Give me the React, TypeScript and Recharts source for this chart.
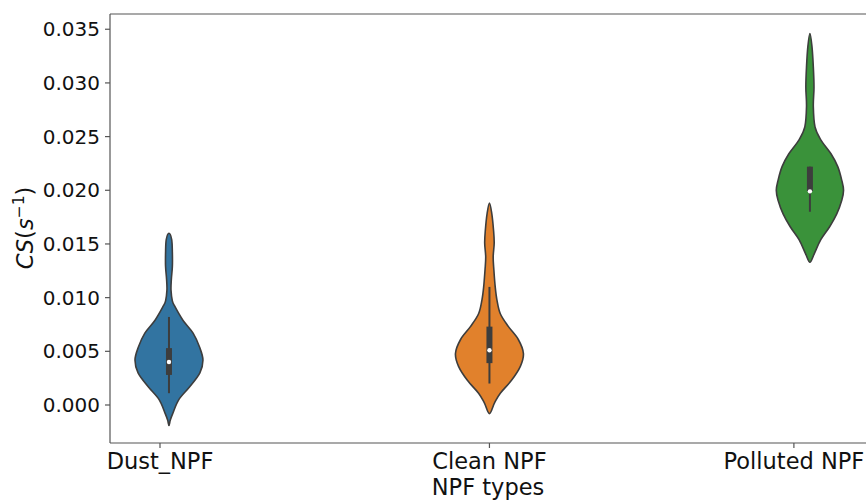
import { ScatterChart, Scatter, XAxis, YAxis, ReferenceLine } from "recharts";

// categories and where their tick labels sit on the x scale
const CATEGORIES = ["Dust_NPF", "Clean NPF", "Polluted NPF"];
const TICK_X = [-0.028, 1, 1.95];
const Y_TICKS = [0, 0.005, 0.01, 0.015, 0.02, 0.025, 0.03, 0.035];

// violin outlines: CS value and relative density (1 = widest)
const DUST_Y = [0.016, 0.0154, 0.0142, 0.0129, 0.0117, 0.0107, 0.0097, 0.0092, 0.0079, 0.0067, 0.0054, 0.0042, 0.003, 0.0017, 0.0005, -0.0008, -0.0014, -0.0019];
const DUST_DENSITY = [0, 0.08, 0.1, 0.1, 0.07, 0.06, 0.1, 0.17, 0.41, 0.71, 0.9, 1.0, 0.91, 0.61, 0.29, 0.11, 0.04, 0];

const CLEAN_Y = [0.0188, 0.0178, 0.0163, 0.0151, 0.0138, 0.0126, 0.011, 0.0098, 0.0085, 0.0073, 0.0061, 0.0048, 0.0036, 0.0023, 0.0011, 0.0002, -0.0008];
const CLEAN_DENSITY = [0, 0.07, 0.12, 0.14, 0.11, 0.13, 0.17, 0.22, 0.32, 0.56, 0.85, 1.0, 0.91, 0.65, 0.32, 0.15, 0];

const POLLUTED_Y = [0.0346, 0.0334, 0.0315, 0.0296, 0.0278, 0.0259, 0.0247, 0.0234, 0.0222, 0.0209, 0.02, 0.0191, 0.0178, 0.0166, 0.0154, 0.0141, 0.0133];
const POLLUTED_DENSITY = [0, 0.06, 0.1, 0.12, 0.1, 0.15, 0.32, 0.62, 0.82, 0.94, 0.99, 0.94, 0.79, 0.58, 0.32, 0.13, 0];

// inner box stats per category
const WHISKER_LO = [0.0011, 0.002, 0.018];
const WHISKER_HI = [0.0082, 0.011, 0.0222];
const Q1 = [0.0028, 0.0039, 0.0199];
const Q3 = [0.0053, 0.0073, 0.0222];
const MEDIAN = [0.004, 0.0051, 0.0199];

const COLORS = ["#3274a1", "#e1812c", "#3a923a"];
const EDGE = "#3d3d3d";
const SPINE = "#555";
const FONT = "DejaVu Sans";

const X_DOMAIN: [number, number] = [-0.184, 2.175];
const Y_DOMAIN: [number, number] = [-0.00354, 0.03642];
const HALF_WIDTH = 0.106;

type Pt = { x: number; y: number };

function violinPoints(center: number, ys: number[], dens: number[]) {
  const right = ys.map((y, i) => ({ x: center + dens[i] * HALF_WIDTH, y }));
  const left = ys
    .map((y, i) => ({ x: center - dens[i] * HALF_WIDTH, y }))
    .slice(1, -1)
    .reverse();
  return [...right, ...left];
}

// closed catmull-rom through the pixel points
function smoothClosed(pts: Pt[]) {
  const n = pts.length;
  let d = `M${pts[0].x},${pts[0].y}`;
  for (let i = 0; i < n; i++) {
    const p0 = pts[(i - 1 + n) % n];
    const p1 = pts[i];
    const p2 = pts[(i + 1) % n];
    const p3 = pts[(i + 2) % n];
    const c1x = p1.x + (p2.x - p0.x) / 6;
    const c1y = p1.y + (p2.y - p0.y) / 6;
    const c2x = p2.x - (p3.x - p1.x) / 6;
    const c2y = p2.y - (p3.y - p1.y) / 6;
    d += ` C${c1x},${c1y} ${c2x},${c2y} ${p2.x},${p2.y}`;
  }
  return d + " Z";
}

const violinLine = (fill: string) => (props: any) =>
  <path d={smoothClosed(props.points)} fill={fill} stroke={EDGE} strokeWidth={1.6} />;

const noShape = () => <g />;

const medianDot = (props: any) => <circle cx={props.cx} cy={props.cy} r={2.2} fill="#fff" />;

function YLabel() {
  return (
    <text
      x={33}
      y={228}
      transform="rotate(-90 33 228)"
      textAnchor="middle"
      fontFamily={FONT}
      fontSize={22.5}
      fill="#111"
    >
      <tspan fontStyle="italic">CS</tspan>
      <tspan>(</tspan>
      <tspan fontStyle="italic">s</tspan>
      <tspan dy={-9} fontSize={15.5}>−1</tspan>
      <tspan dy={9}>)</tspan>
    </text>
  );
}

export default function App() {
  const violins = [
    violinPoints(0, DUST_Y, DUST_DENSITY),
    violinPoints(1, CLEAN_Y, CLEAN_DENSITY),
    violinPoints(2, POLLUTED_Y, POLLUTED_DENSITY),
  ];

  return (
    <div style={{ position: "absolute", left: 0, top: 0, width: 866, height: 500, background: "#fff", overflow: "hidden" }}>
      <ScatterChart width={866} height={500} margin={{ top: 14, right: 0, bottom: 0, left: 0 }} style={{ fontFamily: FONT }}>
        <XAxis
          type="number"
          dataKey="x"
          domain={X_DOMAIN}
          allowDataOverflow
          ticks={TICK_X}
          interval={0}
          tickFormatter={(_v: number, i: number) => CATEGORIES[i]}
          height={57}
          tickSize={5}
          tickMargin={5}
          tick={{ fontSize: 22.5, fill: "#111", fontFamily: FONT }}
          axisLine={{ stroke: SPINE, strokeWidth: 1.2 }}
          tickLine={{ stroke: SPINE, strokeWidth: 1.2 }}
          label={{ value: "NPF types", position: "insideBottom", offset: 5, fontSize: 22.5, fill: "#111", fontFamily: FONT }}
        />
        <YAxis
          type="number"
          dataKey="y"
          domain={Y_DOMAIN}
          allowDataOverflow
          ticks={Y_TICKS}
          interval={0}
          tickFormatter={(v: number) => v.toFixed(3)}
          width={110}
          tickSize={5}
          tickMargin={5}
          tick={{ fontSize: 20, fill: "#111", fontFamily: FONT }}
          axisLine={{ stroke: SPINE, strokeWidth: 1.2 }}
          tickLine={{ stroke: SPINE, strokeWidth: 1.2 }}
        />
        <ReferenceLine y={Y_DOMAIN[1]} stroke={SPINE} strokeWidth={1.2} />
        {violins.map((pts, i) => (
          <Scatter key={`v${i}`} data={pts} line={violinLine(COLORS[i])} shape={noShape} isAnimationActive={false} />
        ))}
        {CATEGORIES.map((_c, i) => (
          <Scatter
            key={`w${i}`}
            data={[{ x: i, y: WHISKER_LO[i] }, { x: i, y: WHISKER_HI[i] }]}
            line={{ stroke: EDGE, strokeWidth: 2 }}
            shape={noShape}
            isAnimationActive={false}
          />
        ))}
        {CATEGORIES.map((_c, i) => (
          <Scatter
            key={`b${i}`}
            data={[{ x: i, y: Q1[i] }, { x: i, y: Q3[i] }]}
            line={{ stroke: EDGE, strokeWidth: 6 }}
            shape={noShape}
            isAnimationActive={false}
          />
        ))}
        <Scatter
          data={MEDIAN.map((y, i) => ({ x: i, y }))}
          shape={medianDot}
          isAnimationActive={false}
        />
        <YLabel />
      </ScatterChart>
    </div>
  );
}
